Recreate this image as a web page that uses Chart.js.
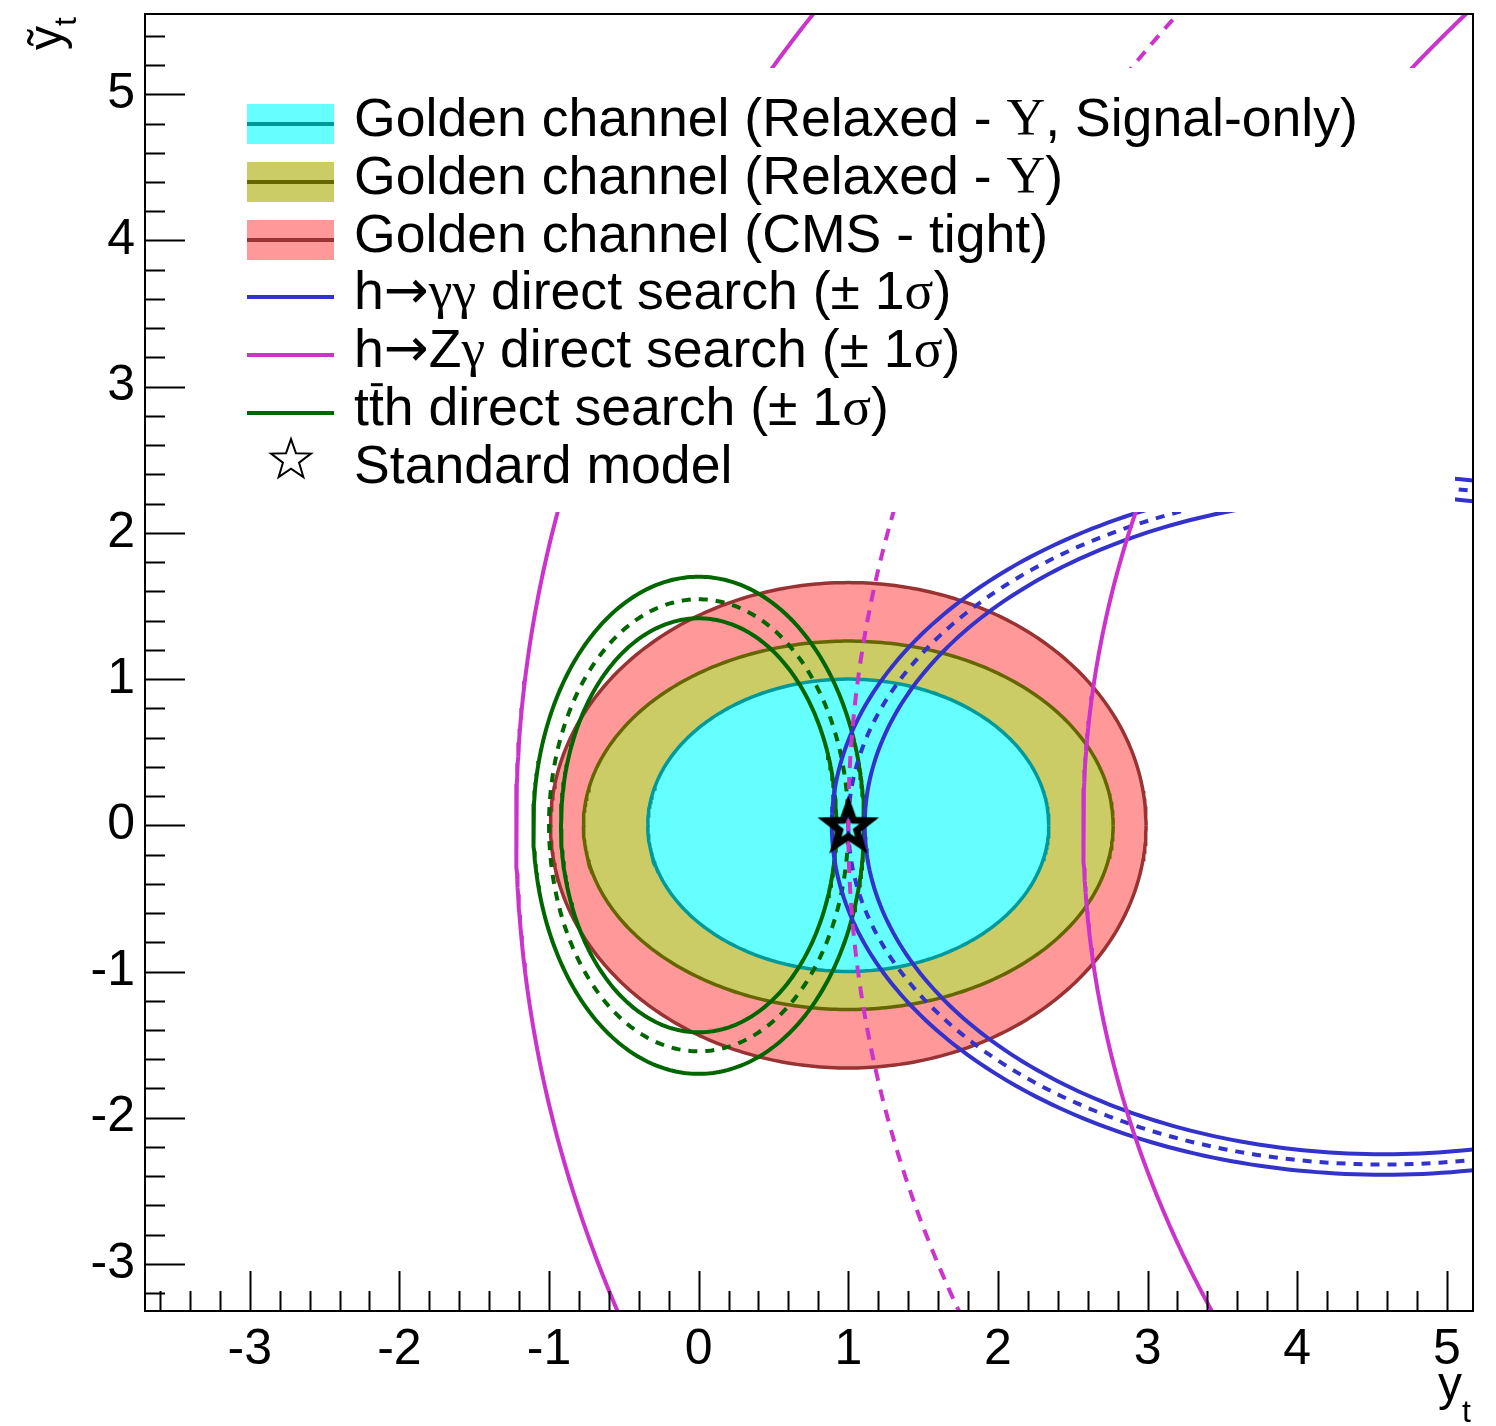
<!DOCTYPE html>
<html>
<head>
<meta charset="utf-8">
<title>yt - ytilde</title>
<script src="https://cdn.jsdelivr.net/npm/chart.js@4.4.0/dist/chart.umd.min.js"></script>
<style>
  html, body { margin: 0; padding: 0; background: #fff; }
  #wrap { width: 1496px; height: 1426px; position: relative; }
</style>
</head>
<body>
<div id="wrap"><canvas id="grafico"></canvas></div>
<script>
// ---- eixos ----
const xRange = [-3.7, 5.175];
const yRange = [-3.322, 5.549];
const xTickValues = [-3, -2, -1, 0, 1, 2, 3, 4, 5];
const yTickValues = [-3, -2, -1, 0, 1, 2, 3, 4, 5];
const minorStep = 0.2;

// ---- golden channel (signal-only, relaxed, CMS tight) : centro e semi-eixos ----
const goldenCenterX = [1.0, 1.0, 1.0];
const goldenSemiX = [1.34, 1.77, 1.99];
const goldenSemiY = [1.0, 1.26, 1.66];

// ---- h -> gamma gamma (fora, central, dentro) ----
const hggCenterX = [4.58, 4.58, 4.58];
const hggSemiX = [3.69, 3.58, 3.47];
const hggSemiY = [2.39, 2.32, 2.25];

// ---- h -> Z gamma (so a parte esquerda aparece) ----
const hzgCenterX = [12.78, 13.0, 16.57];
const hzgSemiX = [14.0, 12.0, 14.0];
const hzgSemiY = [10.81, 9.61, 9.63];

// ---- t tbar h ----
const tthCenterX = [0, 0, 0];
const tthSemiX = [1.105, 1.0, 0.92];
const tthSemiY = [1.70, 1.546, 1.416];

// ---- modelo padrao ----
const smPoint = [1, 0];

const SANS = '"Liberation Sans", Arial, sans-serif';
const SERIF = '"Liberation Serif", "DejaVu Serif", serif';

// contorno de elipse a partir dos parametros lidos
function elipse(cx, rx, ry, n, t0, t1) {
  let pts = [];
  for (let i = 0; i <= n; i++) {
    let t = t0 + (t1 - t0) * i / n;
    pts.push({ x: cx + rx * Math.cos(t), y: ry * Math.sin(t) });
  }
  return pts;
}

function estrela(R, r, lw, fill) {
  const c = document.createElement('canvas');
  const s = Math.ceil(2 * R + 4 * lw + 30);
  c.width = s; c.height = s;
  const g = c.getContext('2d');
  g.translate(s / 2, s / 2 + R * 0.1);
  g.beginPath();
  for (let i = 0; i < 10; i++) {
    const rr = i % 2 == 0 ? R : r;
    const a = -Math.PI / 2 + i * Math.PI / 5;
    g.lineTo(rr * Math.cos(a), rr * Math.sin(a));
  }
  g.closePath();
  if (fill) { g.fillStyle = fill; g.fill(); }
  g.lineJoin = 'miter';
  g.miterLimit = 10;
  g.lineWidth = lw;
  g.strokeStyle = '#000';
  g.stroke();
  return c;
}

const goldenFill = ['#66ffff', '#cccc66', '#ff9999'];
const goldenLine = ['#009999', '#666600', '#993333'];
const blue = '#3333cc';
const magenta = '#cc33cc';
const green = '#006600';
const dash = [9, 8];

let datasets = [];

// golden: metade de cima preenche ate a metade de baixo
for (let k = 0; k < 3; k++) {
  datasets.push({
    data: elipse(goldenCenterX[k], goldenSemiX[k], goldenSemiY[k], 200, Math.PI, 0),
    borderColor: goldenLine[k], backgroundColor: goldenFill[k],
    borderWidth: 3.5, fill: '+1', order: 4 + k
  });
  datasets.push({
    data: elipse(goldenCenterX[k], goldenSemiX[k], goldenSemiY[k], 200, Math.PI, 2 * Math.PI),
    borderColor: goldenLine[k], borderWidth: 3.5, fill: false, order: 4 + k
  });
}

for (let k = 0; k < 3; k++) {
  datasets.push({
    data: elipse(tthCenterX[k], tthSemiX[k], tthSemiY[k], 360, 0, 2 * Math.PI),
    borderColor: green, borderWidth: 4, borderDash: k == 1 ? dash : [], order: 3
  });
  datasets.push({
    data: elipse(hggCenterX[k], hggSemiX[k], hggSemiY[k], 360, 0, 2 * Math.PI),
    borderColor: blue, borderWidth: 4, borderDash: k == 1 ? dash : [], order: 2
  });
  datasets.push({
    data: elipse(hzgCenterX[k], hzgSemiX[k], hzgSemiY[k], 1440, 0, 2 * Math.PI),
    borderColor: magenta, borderWidth: 4, borderDash: k == 1 ? [12, 9] : [], order: 1
  });
}

datasets.push({
  data: [{ x: smPoint[0], y: smPoint[1] }],
  showLine: false, pointStyle: estrela(22, 9, 7, null), pointRadius: 20, order: 0
});

datasets.forEach(d => {
  if (d.showLine === undefined) d.showLine = true;
  if (d.pointRadius === undefined) d.pointRadius = 0;
  d.tension = 0;
});

// texto com varias fontes
function desenharRuns(ctx, x, y, runs, size) {
  ctx.textBaseline = 'middle';
  ctx.textAlign = 'left';
  for (const r of runs) {
    ctx.font = size + 'px ' + (r.f || SANS);
    ctx.fillStyle = '#000';
    ctx.fillText(r.t, x, y);
    const w = ctx.measureText(r.t).width;
    if (r.bar) {
      ctx.fillRect(x + 2, y - size * 0.5, w - 3, 3);
    }
    x += w;
  }
}

const legendRows = [
  [{ t: 'Golden channel (Relaxed - ' }, { t: 'Υ', f: SERIF }, { t: ', Signal-only)' }],
  [{ t: 'Golden channel (Relaxed - ' }, { t: 'Υ', f: SERIF }, { t: ')' }],
  [{ t: 'Golden channel (CMS - tight)' }],
  [{ t: 'h' }, { t: '→', f: '"DejaVu Sans"' }, { t: 'γγ', f: SERIF }, { t: ' direct search (± 1' }, { t: 'σ', f: SERIF }, { t: ')' }],
  [{ t: 'h' }, { t: '→', f: '"DejaVu Sans"' }, { t: 'Z' }, { t: 'γ', f: SERIF }, { t: ' direct search (± 1' }, { t: 'σ', f: SERIF }, { t: ')' }],
  [{ t: 't' }, { t: 't', bar: true }, { t: 'h direct search (± 1' }, { t: 'σ', f: SERIF }, { t: ')' }],
  [{ t: 'Standard model' }]
];
const legendRowY = [124, 182, 240, 297, 355, 413, 471];

const rootPlugin = {
  id: 'rootFrame',
  afterDatasetsDraw(chart) {
    const ctx = chart.ctx;
    const a = chart.chartArea;
    const sx = chart.scales.x, sy = chart.scales.y;
    ctx.save();

    // caixa da legenda
    ctx.fillStyle = '#fff';
    ctx.fillRect(230, 68, 1455 - 230, 512 - 68);
    const bx0 = 247, bx1 = 334;
    for (let k = 0; k < 7; k++) {
      const yc = legendRowY[k];
      if (k < 3) {
        ctx.fillStyle = goldenFill[k];
        ctx.fillRect(bx0, yc - 20, bx1 - bx0, 40);
        ctx.fillStyle = goldenLine[k];
        ctx.fillRect(bx0, yc - 2, bx1 - bx0, 4);
      } else if (k < 6) {
        ctx.fillStyle = [blue, magenta, green][k - 3];
        ctx.fillRect(bx0, yc - 2, bx1 - bx0, 4);
      } else {
        const st = estrela(21, 8.5, 2, '#fff');
        ctx.drawImage(st, 291 - st.width / 2, 460 - st.height / 2 - 2);
      }
      desenharRuns(ctx, 354, yc - 3, legendRows[k], 53.6);
    }

    // moldura e ticks estilo ROOT
    ctx.strokeStyle = '#000';
    ctx.lineWidth = 2;
    ctx.strokeRect(a.left, a.top, a.right - a.left, a.bottom - a.top);
    ctx.beginPath();
    for (let v = Math.ceil(xRange[0] / minorStep) * minorStep; v <= xRange[1] + 1e-9; v += minorStep) {
      const major = Math.abs(v - Math.round(v)) < 1e-6;
      const px = Math.round(sx.getPixelForValue(v)) + 0.5;
      ctx.moveTo(px, a.bottom);
      ctx.lineTo(px, a.bottom - (major ? 40 : 20));
    }
    for (let v = Math.ceil(yRange[0] / minorStep) * minorStep; v <= yRange[1] + 1e-9; v += minorStep) {
      const major = Math.abs(v - Math.round(v)) < 1e-6;
      const py = Math.round(sy.getPixelForValue(v)) + 0.5;
      ctx.moveTo(a.left, py);
      ctx.lineTo(a.left + (major ? 40 : 20), py);
    }
    ctx.stroke();

    // titulos dos eixos
    ctx.fillStyle = '#000';
    ctx.textBaseline = 'alphabetic';
    ctx.textAlign = 'left';
    ctx.font = '48px ' + SANS;
    ctx.fillText('y', 1438, 1400);
    ctx.font = '32px ' + SANS;
    ctx.fillText('t', 1462, 1422);

    ctx.save();
    ctx.translate(62, 50);
    ctx.rotate(-Math.PI / 2);
    ctx.font = '48px ' + SANS;
    ctx.fillText('ỹ', 0, 0);
    const wy = ctx.measureText('ỹ').width;
    ctx.font = '32px ' + SANS;
    ctx.fillText('t', wy, 14);
    ctx.restore();

    ctx.restore();
  }
};

const tickFont = { family: SANS, size: 50 };
const semPadding = s => { s.paddingTop = 0; s.paddingBottom = 0; s.paddingLeft = 0; s.paddingRight = 0; };

new Chart(document.getElementById('grafico'), {
  type: 'scatter',
  data: { datasets: datasets },
  options: {
    responsive: true,
    maintainAspectRatio: false,
    animation: false,
    layout: { autoPadding: false, padding: { top: 14, right: 23, left: 0, bottom: 0 } },
    plugins: {
      legend: { display: false },
      tooltip: { enabled: false },
      filler: { drawTime: 'beforeDatasetsDraw' }
    },
    scales: {
      x: {
        type: 'linear', min: xRange[0], max: xRange[1],
        afterBuildTicks: s => { s.ticks = xTickValues.map(v => ({ value: v })); },
        afterFit: s => { s.height = 115; semPadding(s); },
        grid: { display: false, drawTicks: false },
        border: { display: false },
        ticks: { font: tickFont, color: '#000', padding: 9, maxRotation: 0, autoSkip: false }
      },
      y: {
        type: 'linear', min: yRange[0], max: yRange[1],
        afterBuildTicks: s => { s.ticks = yTickValues.map(v => ({ value: v })); },
        afterFit: s => { s.width = 145; semPadding(s); },
        grid: { display: false, drawTicks: false },
        border: { display: false },
        ticks: { font: tickFont, color: '#000', padding: 10, autoSkip: false }
      }
    }
  },
  plugins: [rootPlugin]
});
</script>
</body>
</html>
